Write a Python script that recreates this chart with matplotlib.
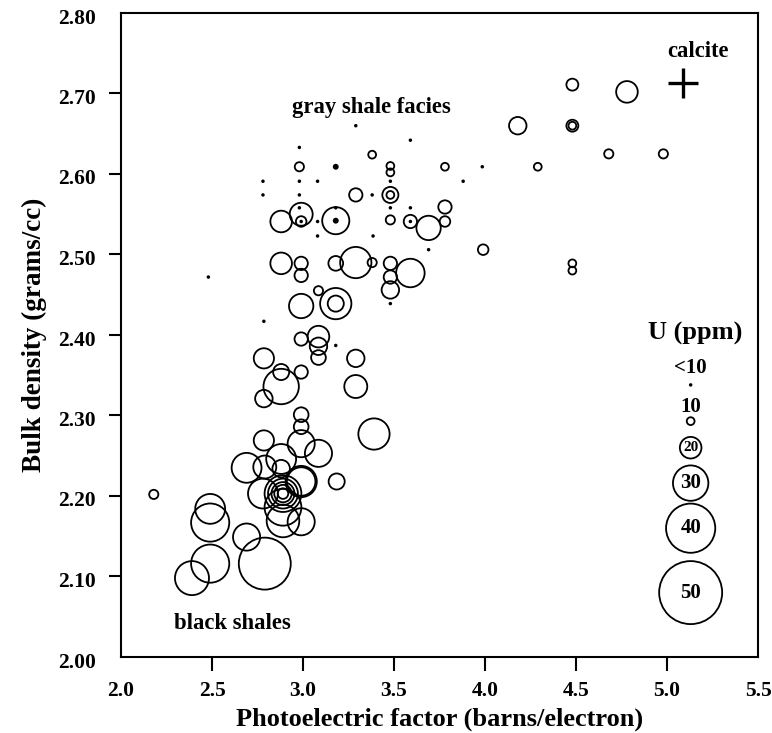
import matplotlib
matplotlib.use("Agg")
import matplotlib.pyplot as plt
import matplotlib.transforms as mtransforms
import numpy as np

plt.rcParams['font.family'] = ['Liberation Serif', 'DejaVu Serif']
plt.rcParams['font.weight'] = 'bold'

# ---- data: photoelectric factor, bulk density, uranium (ppm) ----
pe = [3.29, 2.98, 3.38, 2.98, 3.18, 3.48, 3.48,
      2.78, 2.98, 3.08, 3.48, 2.78, 2.98, 3.38, 3.29, 3.48, 3.48,
      2.98, 3.18, 3.48, 2.88, 2.99, 2.99, 2.99, 3.08, 3.18, 3.18, 3.48,
      3.08, 3.385, 2.88, 2.99, 2.99, 3.18, 3.29, 3.38,
      3.48, 3.48, 3.48, 3.48, 3.59, 3.78, 3.985, 4.29, 3.88,
      3.59, 3.78, 3.78, 3.59, 3.59, 3.69, 3.69, 3.99, 4.18, 3.59,
      4.48, 4.78, 4.48, 4.48, 4.68, 4.98, 4.48, 4.48,
      2.48, 2.785, 3.085, 2.99, 3.18, 3.18,
      3.085, 3.085, 3.085, 2.99, 3.18, 2.785, 2.88, 2.88, 2.99, 2.785,
      3.29, 3.29, 2.99, 2.99, 2.99, 3.39, 2.785, 3.085,
      2.69, 2.79, 2.88, 2.88, 2.99, 2.99, 3.185, 2.78,
      2.89, 2.89, 2.89, 2.89, 2.89, 2.89, 2.89, 2.99,
      2.49, 2.49, 2.69, 2.49, 2.39, 2.79, 2.18]
rho = [2.660, 2.633, 2.624, 2.609, 2.609, 2.610, 2.602,
       2.591, 2.591, 2.591, 2.591, 2.574, 2.574, 2.574, 2.574, 2.574, 2.574,
       2.558, 2.558, 2.558, 2.541, 2.550, 2.541, 2.541, 2.541, 2.542, 2.542, 2.543,
       2.523, 2.523, 2.489, 2.489, 2.474, 2.489, 2.490, 2.490,
       2.489, 2.472, 2.456, 2.439, 2.642, 2.609, 2.609, 2.609, 2.591,
       2.558, 2.559, 2.541, 2.541, 2.541, 2.533, 2.506, 2.506, 2.660, 2.477,
       2.711, 2.702, 2.660, 2.660, 2.625, 2.625, 2.489, 2.480,
       2.472, 2.417, 2.455, 2.436, 2.439, 2.439,
       2.398, 2.386, 2.372, 2.395, 2.387, 2.371, 2.354, 2.336, 2.354, 2.321,
       2.371, 2.336, 2.301, 2.286, 2.265, 2.277, 2.269, 2.253,
       2.235, 2.236, 2.246, 2.234, 2.218, 2.218, 2.218, 2.203,
       2.203, 2.203, 2.203, 2.203, 2.203, 2.186, 2.169, 2.168,
       2.184, 2.167, 2.149, 2.116, 2.098, 2.116, 2.202]
uranium = [3, 3, 10, 11, 7, 10, 10,
           3, 3, 3, 3, 3, 3, 3, 14, 16, 10,
           3, 3, 3, 20, 21, 12, 3, 3, 24, 7, 11,
           3, 3, 20, 14, 14, 15, 27, 11,
           14, 14, 17, 3, 3, 10, 3, 10, 3,
           3, 14, 12, 14, 3, 22, 3, 12, 17, 25,
           13, 20, 13, 10, 11, 11, 10, 10,
           3, 3, 11, 22, 27, 16,
           20, 17, 15, 14, 3, 19, 16, 30, 14, 17,
           17, 21, 15, 15, 24, 27, 19, 24,
           26, 21, 26, 17, 27, 25, 16, 26,
           31, 26, 21, 17, 12, 31, 28, 24,
           26, 32, 24, 32, 29, 42, 11]

calcite_pe = [5.09]
calcite_rho = [2.713]

legend_labels = ['<10', '10', '20', '30', '40', '50']
legend_u = [3, 10, 20, 30, 40, 50]

# ---- styling helpers ----
PX = 72.0 / 100.0  # points per pixel at dpi 100


def diam_px(u):
    if u < 10:
        return 0.6 * u + 1.7
    return 1.38 * u - 6.0


fig = plt.figure(figsize=(7.72, 7.33), dpi=100)
ax = fig.add_axes([121 / 772, 76 / 733, 637 / 772, 644 / 733])

pe_a = np.array(pe)
rho_a = np.array(rho)
u_a = np.array(uranium)
d = np.array([diam_px(u) for u in u_a]) * PX
small = u_a < 10
ax.scatter(pe_a[small], rho_a[small], s=d[small] ** 2, c='black',
           edgecolors='none', zorder=3)
ax.scatter(pe_a[~small], rho_a[~small], s=d[~small] ** 2, facecolors='none',
           edgecolors='black', linewidths=1.3, zorder=3)

ax.plot(calcite_pe, calcite_rho, marker='+', color='black', markersize=21,
        markeredgewidth=2.4, linestyle='none', zorder=3)

# ---- legend drawn inside the axes ----
lx = 5.13
ax.text(5.155, 2.402, 'U (ppm)', ha='center', va='center', fontsize=19,
        fontweight='bold')
leg_y = [2.338, 2.293, 2.260, 2.216, 2.160, 2.080]
for lab, u, yy in zip(legend_labels, legend_u, leg_y):
    dd = diam_px(u) * PX
    if u < 10:
        ax.scatter([lx], [yy], s=dd ** 2, c='black', edgecolors='none')
        ax.text(lx, 2.359, lab, ha='center', va='center', fontsize=15,
                fontweight='bold')
    elif u == 10:
        ax.scatter([lx], [yy], s=dd ** 2, facecolors='none',
                   edgecolors='black', linewidths=1.3)
        ax.text(lx, 2.311, lab, ha='center', va='center', fontsize=15,
                fontweight='bold')
    else:
        ax.scatter([lx], [yy], s=dd ** 2, facecolors='none',
                   edgecolors='black', linewidths=1.3)
        fs = 11 if u == 20 else 15
        ax.text(lx, yy, lab, ha='center', va='center', fontsize=fs,
                fontweight='bold')

ax.text(3.374, 2.683, 'gray shale facies', ha='center', va='center',
        fontsize=16.3, fontweight='bold')
ax.text(5.17, 2.752, 'calcite', ha='center', va='center', fontsize=16.3,
        fontweight='bold')
ax.text(2.613, 2.042, 'black shales', ha='center', va='center', fontsize=16.3,
        fontweight='bold')

# ---- axes ----
ax.set_xlim(2.0, 5.5)
ax.set_ylim(2.0, 2.8)
xt = [2.0, 2.5, 3.0, 3.5, 4.0, 4.5, 5.0, 5.5]
yt = [2.0, 2.1, 2.2, 2.3, 2.4, 2.5, 2.6, 2.7, 2.8]
ax.set_xticks(xt)
ax.set_xticklabels([f'{v:.1f}' for v in xt])
ax.set_yticks(yt)
ax.set_yticklabels([f'{v:.2f}' for v in yt])
ax.tick_params(direction='out', length=10, width=1.5, labelsize=15.5, pad=7)
ax.tick_params(axis='y', pad=9, length=9)
for t in (ax.xaxis.get_major_ticks()[0], ax.xaxis.get_major_ticks()[-1],
          ax.yaxis.get_major_ticks()[0], ax.yaxis.get_major_ticks()[-1]):
    t.tick1line.set_visible(False)
shift = mtransforms.ScaledTranslation(0, -3 / 100, fig.dpi_scale_trans)
for lab in ax.get_yticklabels():
    lab.set_transform(lab.get_transform() + shift)
for lab in ax.get_xticklabels() + ax.get_yticklabels():
    lab.set_fontweight('bold')
for sp in ax.spines.values():
    sp.set_linewidth(1.5)

ax.set_xlabel('Photoelectric factor (barns/electron)', fontsize=19,
              fontweight='bold', labelpad=5)
ax.set_ylabel('Bulk density (grams/cc)', fontsize=19.5, fontweight='bold',
              labelpad=8)

fig.savefig('out.png', dpi=100)
